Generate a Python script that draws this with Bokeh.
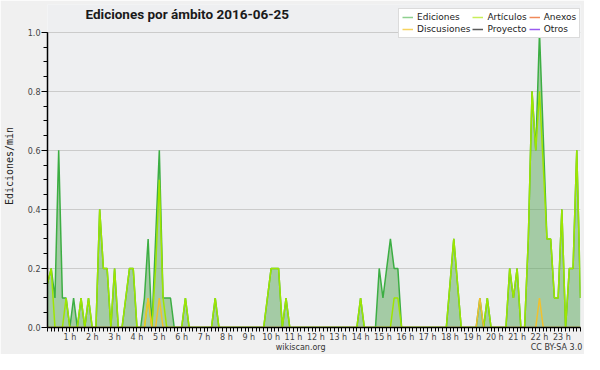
from bokeh.plotting import figure
from bokeh.models import (Range1d, FixedTicker, Legend, LegendItem, Label,
                          ColumnDataSource, LinearAxis)
from bokeh.embed import file_html
from bokeh.resources import INLINE

# ---------------- data (10-minute bins, edits per minute) ----------------
hour_labels = ["1 h", "2 h", "3 h", "4 h", "5 h", "6 h", "7 h", "8 h", "9 h",
               "10 h", "11 h", "12 h", "13 h", "14 h", "15 h", "16 h", "17 h",
               "18 h", "19 h", "20 h", "21 h", "22 h", "23 h"]
y_tick_values = [0.0, 0.2, 0.4, 0.6, 0.8, 1.0]
y_tick_labels = ["0.0", "0.2", "0.4", "0.6", "0.8", "1.0"]

ediciones = [
    0.15, 0.2, 0.1, 0.6, 0.1, 0.1,    # 0 h
    0, 0.1, 0, 0.1, 0, 0.1,           # 1 h
    0, 0, 0.4, 0.2, 0.2, 0,           # 2 h
    0.2, 0, 0, 0.1, 0.2, 0.2,         # 3 h
    0, 0, 0.1, 0.3, 0, 0.3,           # 4 h
    0.6, 0.1, 0.1, 0.1, 0, 0,         # 5 h
    0, 0.1, 0, 0, 0, 0,               # 6 h
    0, 0, 0, 0.1, 0, 0,               # 7 h
    0, 0, 0, 0, 0, 0,                 # 8 h
    0, 0, 0, 0, 0, 0.1,               # 9 h
    0.2, 0.2, 0.2, 0, 0.1, 0,         # 10 h
    0, 0, 0, 0, 0, 0,                 # 11 h
    0, 0, 0, 0, 0, 0,                 # 12 h
    0, 0, 0, 0, 0, 0,                 # 13 h
    0.1, 0, 0, 0, 0, 0.2,             # 14 h
    0.1, 0.2, 0.3, 0.2, 0.2, 0,       # 15 h
    0, 0, 0, 0, 0, 0,                 # 16 h
    0, 0, 0, 0, 0, 0,                 # 17 h
    0.15, 0.3, 0.15, 0, 0, 0,         # 18 h
    0, 0, 0.1, 0, 0.1, 0,             # 19 h
    0, 0, 0, 0, 0.2, 0.1,             # 20 h
    0.2, 0, 0, 0.3, 0.8, 0.6,         # 21 h
    1.0, 0.65, 0.3, 0.3, 0.1, 0.1,    # 22 h
    0.4, 0, 0.2, 0.2, 0.6, 0.1,       # 23 h
]
articulos = [
    0.15, 0.2, 0, 0, 0, 0.1,
    0, 0, 0, 0.1, 0, 0.1,
    0, 0, 0.4, 0.2, 0.2, 0,
    0.2, 0, 0, 0.1, 0.2, 0.2,
    0, 0, 0, 0.1, 0, 0.2,
    0.5, 0.1, 0, 0, 0, 0,
    0, 0.1, 0, 0, 0, 0,
    0, 0, 0, 0.1, 0, 0,
    0, 0, 0, 0, 0, 0,
    0, 0, 0, 0, 0, 0.1,
    0.2, 0.2, 0.2, 0, 0.1, 0,
    0, 0, 0, 0, 0, 0,
    0, 0, 0, 0, 0, 0,
    0, 0, 0, 0, 0, 0,
    0.1, 0, 0, 0, 0, 0,
    0, 0, 0, 0.1, 0.1, 0,
    0, 0, 0, 0, 0, 0,
    0, 0, 0, 0, 0, 0,
    0.15, 0.3, 0.15, 0, 0, 0,
    0, 0, 0, 0, 0.1, 0,
    0, 0, 0, 0, 0.2, 0.1,
    0.2, 0, 0, 0.3, 0.8, 0.6,
    0.8, 0.55, 0.3, 0.3, 0.1, 0.1,
    0.4, 0, 0.2, 0.2, 0.6, 0.1,
]
discusiones = [
    0, 0, 0, 0, 0, 0,
    0, 0, 0, 0, 0, 0,
    0, 0, 0, 0, 0, 0,
    0, 0, 0, 0, 0, 0,
    0, 0, 0, 0.1, 0, 0,
    0.1, 0, 0, 0, 0, 0,
    0, 0, 0, 0, 0, 0,
    0, 0, 0, 0, 0, 0,
    0, 0, 0, 0, 0, 0,
    0, 0, 0, 0, 0, 0,
    0, 0, 0, 0, 0, 0,
    0, 0, 0, 0, 0, 0,
    0, 0, 0, 0, 0, 0,
    0, 0, 0, 0, 0, 0,
    0, 0, 0, 0, 0, 0,
    0, 0, 0, 0, 0, 0,
    0, 0, 0, 0, 0, 0,
    0, 0, 0, 0, 0, 0,
    0, 0, 0, 0, 0, 0,
    0, 0, 0.1, 0, 0, 0,
    0, 0, 0, 0, 0, 0,
    0, 0, 0, 0, 0, 0,
    0.1, 0, 0, 0, 0, 0,
    0, 0, 0, 0, 0, 0,
]
zero_row = [0, 0, 0, 0, 0, 0]
anexos = zero_row * 24
proyecto = zero_row * 24
otros = zero_row * 24

series_names = ["Ediciones", "Discusiones", "Artículos", "Proyecto", "Anexos", "Otros"]
legend_colors = ["#8fd08f", "#f7d35e", "#c8ee5a", "#5a5a5a", "#f08a5a", "#9a5cf0"]
title_text = "Ediciones por ámbito  2016-06-25"
footer_texts = ["wikiscan.org", "CC BY-SA 3.0"]

N = len(ediciones)
x = list(range(N))
NAN = float("nan")

src = ColumnDataSource(dict(x=x, ed=ediciones, art=articulos, disc=discusiones,
                            anx=anexos, proy=proyecto, otr=otros))

W, H = 584, 354
Y_TOP = 1.094   # head-room above 1.0 so title/legend live in the frame
p = figure(width=W, height=H, output_backend="svg", toolbar_location=None,
           title=None,
           x_range=Range1d(0, N - 1), y_range=Range1d(0, Y_TOP),
           min_border_left=47, min_border_right=4, min_border_top=4,
           min_border_bottom=4)

p.background_fill_color = "#eeeff1"
p.border_fill_color = "#f0f0f0"
p.outline_line_color = None

# axes
xa = p.xaxis[0]
xa.ticker = FixedTicker(ticks=[6 * (k + 1) for k in range(len(hour_labels))],
                        minor_ticks=x)
xa.major_label_overrides = {6 * (k + 1): lab for k, lab in enumerate(hour_labels)}
xa.major_tick_out = 4
xa.major_tick_in = 0
xa.minor_tick_out = 4
xa.minor_tick_in = 0
xa.major_label_standoff = 1
ya = p.yaxis[0]
ya.ticker = FixedTicker(ticks=y_tick_values,
                        minor_ticks=[round(0.05 * k, 2) for k in range(21)])
ya.major_label_overrides = {v: s for v, s in zip(y_tick_values, y_tick_labels)}
ya.bounds = (0, 1.0)
ya.major_tick_out = 6
ya.major_tick_in = 0
ya.minor_tick_out = 4
ya.minor_tick_in = 0
ya.major_label_standoff = 1
ya.axis_label = "Ediciones/min"
ya.axis_label_text_font = "DejaVu Sans Mono"
ya.axis_label_text_font_size = "10px"
ya.axis_label_text_font_style = "normal"
ya.axis_label_text_color = "#222222"
ya.axis_label_standoff = 10
for ax in (xa, ya):
    ax.axis_line_color = "#000000"
    ax.axis_line_width = 1.5
    ax.major_tick_line_color = "#000000"
    ax.minor_tick_line_color = "#000000"
    ax.major_label_text_font = "DejaVu Sans"
    ax.major_label_text_font_size = "8px"
    ax.major_label_text_color = "#444444"

# footer line (wikiscan.org / CC BY-SA 3.0) as a bare axis under the x axis
footer_pos = [(N - 1) * 0.475, (N - 1) * 0.955]
fa = LinearAxis(ticker=FixedTicker(ticks=footer_pos),
                major_label_overrides={v: t for v, t in zip(footer_pos, footer_texts)},
                axis_line_color=None, major_tick_line_color=None,
                minor_tick_line_color=None, major_tick_out=0, major_tick_in=0,
                major_label_standoff=-2, major_label_text_font="DejaVu Sans",
                major_label_text_font_size="8px", major_label_text_color="#333333")
p.add_layout(fa, "below")

p.xgrid.grid_line_color = None
p.ygrid.grid_line_color = "#cbcbcb"
p.ygrid.grid_line_width = 1

# glyphs
p.line("x", "anx", source=src, line_color="#f08a5a", line_width=1)
p.line("x", "proy", source=src, line_color="#5a5a5a", line_width=1)
p.line("x", "otr", source=src, line_color="#9a5cf0", line_width=1)
p.varea(x="x", y1=0, y2="ed", source=src, fill_color="#5aa85a", fill_alpha=0.5)
p.line("x", "ed", source=src, line_color="#3cae43", line_width=1.5)
p.line("x", "art", source=src, line_color="#9ee600", line_width=1.5)
p.line("x", "disc", source=src, line_color="#f2c12e", line_width=1.5)

# title (inside the head-room of the frame)
p.add_layout(Label(x=38, y=1.063, x_units="screen", y_units="data",
                   text=title_text, text_font="Roboto", text_font_size="13.5px",
                   text_font_style="bold", text_color="#1a1a1a",
                   text_baseline="alphabetic"))

# legend: swatches only, drawn beneath the data like the original
LEG_X, LEG_Y = 351, 289     # bottom-left corner, px from the frame's bottom-left
items = []
for name, col in zip(series_names, legend_colors):
    r = p.line(x=[NAN], y=[NAN], line_color=col, line_width=1.5)
    items.append(LegendItem(label=name, renderers=[r]))
legend = Legend(items=items, location=(LEG_X, LEG_Y), orientation="vertical",
                ncols=3)
legend.level = "underlay"
legend.label_text_font = "DejaVu Sans"
legend.label_text_font_size = "9px"
legend.label_text_color = "#222222"
legend.label_height = 10
legend.glyph_height = 10
legend.glyph_width = 11
legend.label_standoff = 4
legend.spacing = 2
legend.padding = 3
legend.margin = 0
legend.border_line_color = "#b8b8b8"
legend.border_line_width = 1
legend.background_fill_color = "#ffffff"
legend.background_fill_alpha = 1.0
p.add_layout(legend, "center")

open("out.html", "w").write(file_html(p, INLINE))
